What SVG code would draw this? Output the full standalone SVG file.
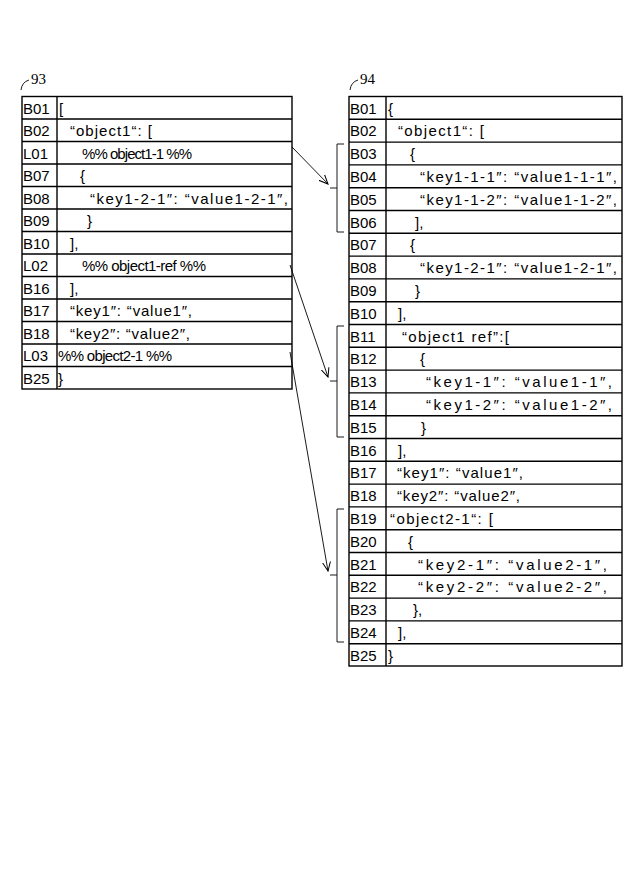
<svg xmlns="http://www.w3.org/2000/svg" width="640" height="876" viewBox="0 0 640 876">
<defs>
<style>
text{font-family:"Liberation Sans",Arial,sans-serif;font-size:15px;fill:#000}
.ref{font-family:"Liberation Serif",serif;font-size:15px}
.g{fill:none;stroke:#000;stroke-width:1.4}
.c{fill:none;stroke:#000;stroke-width:0.9}
</style>
<marker id="ah" markerWidth="10" markerHeight="10" refX="9" refY="5" orient="auto" markerUnits="userSpaceOnUse"><path d="M0,1 L9,5 L0,9" fill="none" stroke="#000" stroke-width="1"/></marker>
</defs>
<rect width="640" height="876" fill="#fff"/>
<g id="table93">
<text class="ref" x="31" y="84">93</text>
<path class="c" d="M29,80 Q22,82 21,90"/>
<rect class="g" x="22" y="96.5" width="270" height="292.5"/>
<line class="g" x1="57" y1="96.5" x2="57" y2="389"/>
<path class="g" d="M22,119H292M22,141.5H292M22,164H292M22,186.5H292M22,209H292M22,231.5H292M22,254H292M22,276.5H292M22,299H292M22,321.5H292M22,344H292M22,366.5H292"/>
<g transform="translate(0,5.5)">
<text x="23" y="108">B01</text><text x="59" y="108">[</text>
<text x="23" y="130.5">B02</text><text x="70" y="130.5" textLength="82" lengthAdjust="spacing">“object1“: [</text>
<text x="23" y="153">L01</text><text x="82" y="153" textLength="110" lengthAdjust="spacing">%% object1-1 %%</text>
<text x="23" y="175.5">B07</text><text x="80" y="175.5">{</text>
<text x="23" y="198">B08</text><text x="90" y="198" textLength="198" lengthAdjust="spacing">“key1-2-1″: “value1-2-1″,</text>
<text x="23" y="220.5">B09</text><text x="87" y="220.5">}</text>
<text x="23" y="243">B10</text><text x="70" y="243">],</text>
<text x="23" y="265.5">L02</text><text x="82" y="265.5" textLength="124" lengthAdjust="spacing">%% object1-ref %%</text>
<text x="23" y="288">B16</text><text x="70" y="288">],</text>
<text x="23" y="310.5">B17</text><text x="70" y="310.5" textLength="122" lengthAdjust="spacing">“key1″: “value1″,</text>
<text x="23" y="333">B18</text><text x="70" y="333" textLength="120" lengthAdjust="spacing">“key2″: “value2″,</text>
<text x="23" y="355.5">L03</text><text x="58" y="355.5" textLength="114" lengthAdjust="spacing">%% object2-1 %%</text>
<text x="23" y="378">B25</text><text x="58" y="378">}</text>
</g>
</g>
<g id="table94">
<text class="ref" x="360" y="84">94</text>
<path class="c" d="M358,80 Q351,82 350,90"/>
<rect class="g" x="349" y="96.5" width="273" height="569.5"/>
<line class="g" x1="386" y1="96.5" x2="386" y2="666"/>
<path class="g" d="M349,119.3H622M349,142.1H622M349,164.9H622M349,187.7H622M349,210.5H622M349,233.3H622M349,256.1H622M349,278.9H622M349,301.7H622M349,324.5H622M349,347.3H622M349,370.1H622M349,392.9H622M349,415.7H622M349,438.5H622M349,461.3H622M349,484.1H622M349,506.9H622M349,529.7H622M349,552.5H622M349,575.3H622M349,598.1H622M349,620.9H622M349,643.7H622"/>
<g transform="translate(0,5.5)">
<text x="350" y="108">B01</text><text x="388" y="108">{</text>
<text x="350" y="130.8">B02</text><text x="398" y="130.8" textLength="86" lengthAdjust="spacing">“object1“: [</text>
<text x="350" y="153.6">B03</text><text x="410" y="153.6">{</text>
<text x="350" y="176.4">B04</text><text x="420" y="176.4" textLength="197" lengthAdjust="spacing">“key1-1-1″: “value1-1-1″,</text>
<text x="350" y="199.2">B05</text><text x="420" y="199.2" textLength="197" lengthAdjust="spacing">“key1-1-2″: “value1-1-2″,</text>
<text x="350" y="222">B06</text><text x="415" y="222">],</text>
<text x="350" y="244.8">B07</text><text x="410" y="244.8">{</text>
<text x="350" y="267.6">B08</text><text x="420" y="267.6" textLength="197" lengthAdjust="spacing">“key1-2-1″: “value1-2-1″,</text>
<text x="350" y="290.4">B09</text><text x="415" y="290.4">}</text>
<text x="350" y="313.2">B10</text><text x="398" y="313.2">],</text>
<text x="350" y="336">B11</text><text x="402" y="336" textLength="107" lengthAdjust="spacing">“object1 ref”:[</text>
<text x="350" y="358.8">B12</text><text x="420" y="358.8">{</text>
<text x="350" y="381.6">B13</text><text x="426" y="381.6" textLength="186" lengthAdjust="spacing">“key1-1″: “value1-1″,</text>
<text x="350" y="404.4">B14</text><text x="426" y="404.4" textLength="186" lengthAdjust="spacing">“key1-2″: “value1-2″,</text>
<text x="350" y="427.2">B15</text><text x="421" y="427.2">}</text>
<text x="350" y="450">B16</text><text x="398" y="450">],</text>
<text x="350" y="472.8">B17</text><text x="397" y="472.8" textLength="126" lengthAdjust="spacing">“key1″: “value1″,</text>
<text x="350" y="495.6">B18</text><text x="397" y="495.6" textLength="123" lengthAdjust="spacing">“key2″: “value2″,</text>
<text x="350" y="518.4">B19</text><text x="390" y="518.4" textLength="103" lengthAdjust="spacing">“object2-1“: [</text>
<text x="350" y="541.2">B20</text><text x="408" y="541.2">{</text>
<text x="350" y="564">B21</text><text x="418" y="564" textLength="189" lengthAdjust="spacing">“key2-1″: “value2-1″,</text>
<text x="350" y="586.8">B22</text><text x="418" y="586.8" textLength="189" lengthAdjust="spacing">“key2-2″: “value2-2″,</text>
<text x="350" y="609.6">B23</text><text x="413" y="609.6">},</text>
<text x="350" y="632.4">B24</text><text x="398" y="632.4">],</text>
<text x="350" y="655.2">B25</text><text x="388" y="655.2">}</text>
</g>
</g>
<g id="connectors">
<path class="c" d="M344,144H337V232H344M337,188H330"/>
<path class="c" d="M344,326H337V437H344M337,381H330"/>
<path class="c" d="M344,509H337V642H344M337,575H330"/>
<line class="c" x1="292" y1="147" x2="328" y2="184" marker-end="url(#ah)"/>
<line class="c" x1="290" y1="265" x2="328" y2="377" marker-end="url(#ah)"/>
<line class="c" x1="290" y1="352" x2="328" y2="571" marker-end="url(#ah)"/>
</g>
</svg>
